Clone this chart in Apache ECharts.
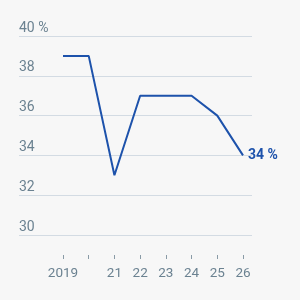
<!DOCTYPE html>
<html style="height: 100%">
<head>
    <meta charset="utf-8">
</head>
<body style="height: 100%; margin: 0; background: #f7f7f7">
    <div id="container" style="width: 300px; height: 300px;"></div>
    <script type="text/javascript" src="https://cdn.jsdelivr.net/npm/echarts@6/dist/echarts.min.js"></script>
    <script type="text/javascript">
        var years = ['2019', '2020', '2021', '2022', '2023', '2024', '2025', '2026'];
        var yearLabels = ['2019', '', '21', '22', '23', '24', '25', '26'];
        var values = [39, 39, 33, 37, 37, 37, 36, 34];
        var yMin = 30, yMax = 40, yStep = 2;

        var textColor = '#6b8291';
        var lineColor = '#1d52ab';

        var myChart = echarts.init(document.getElementById('container'));
        var option = {
            backgroundColor: '#f7f7f7',
            textStyle: { fontFamily: 'Roboto' },
            grid: [
                { left: 19, right: 48, top: 36, bottom: 65 },
                { left: 63, right: 57, top: 36, bottom: 65 }
            ],
            xAxis: [
                { gridIndex: 0, type: 'category', show: false, data: years },
                {
                    gridIndex: 1, type: 'category', data: years, boundaryGap: false,
                    offset: 20,
                    axisLine: { show: false },
                    axisTick: { show: true, length: 4, interval: 0, lineStyle: { color: '#8a9ba6' } },
                    axisLabel: {
                        color: textColor, fontSize: 13.5, margin: 12, interval: 0,
                        hideOverlap: false, showMinLabel: true, showMaxLabel: true,
                        formatter: function (v) { return yearLabels[years.indexOf(v)]; }
                    }
                }
            ],
            yAxis: [
                {
                    gridIndex: 0, type: 'value', min: yMin, max: yMax, interval: yStep,
                    axisLine: { show: false }, axisTick: { show: false },
                    splitLine: { lineStyle: { color: '#d3dbe3', width: 1 } },
                    axisLabel: {
                        inside: true, margin: 0, verticalAlign: 'bottom', align: 'left',
                        padding: [0, 0, 1, 0],
                        color: textColor, fontSize: 14,
                        formatter: function (v) { return v === yMax ? v + ' %' : v; }
                    }
                },
                { gridIndex: 1, type: 'value', min: yMin, max: yMax, show: false }
            ],
            series: [
                {
                    type: 'line', xAxisIndex: 1, yAxisIndex: 1,
                    data: values, symbol: 'none',
                    lineStyle: { color: lineColor, width: 2 },
                    endLabel: {
                        show: true, formatter: '{c} %', color: lineColor,
                        fontWeight: 'bold', fontSize: 14, distance: 5
                    },
                    silent: true, animation: false
                }
            ],
            animation: false
        };
        myChart.setOption(option);
    </script>
</body>
</html>
